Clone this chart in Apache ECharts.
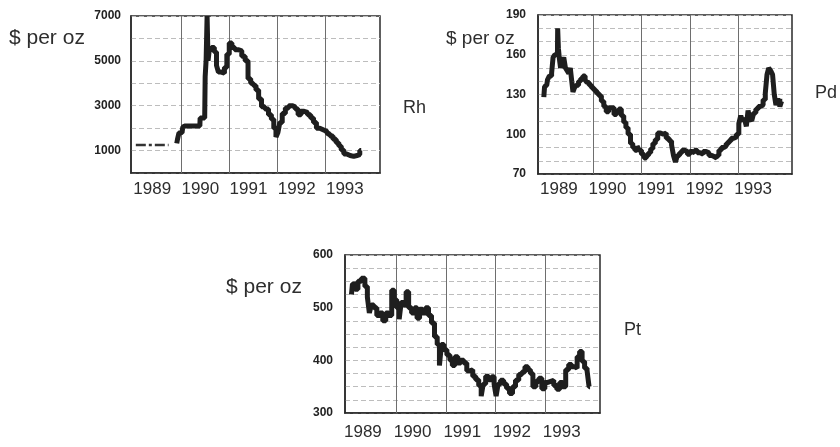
<!DOCTYPE html>
<html>
<head>
<meta charset="utf-8">
<script src="https://cdn.jsdelivr.net/npm/echarts@6/dist/echarts.min.js"></script>
<style>
  html, body { margin: 0; padding: 0; background: #fff; }
  #chart { width: 840px; height: 447px; }
</style>
</head>
<body>
<div id="chart"></div>
<script>
// year labels and the vertical year lines
const yearLabels = [1989, 1990, 1991, 1992, 1993];
const gridYears = [1990, 1991, 1992, 1993];

// Rh ($ per oz)
const rhTicks = [1000, 3000, 5000, 7000];
const rhDashYears = [1989.06, 1989.74];
const rhDashValues = [1250, 1250];
const rhYears = [1989.91, 1989.94, 1989.97, 1990.02, 1990.05, 1990.09, 1990.39, 1990.40, 1990.49, 1990.51,
  1990.53, 1990.55, 1990.57, 1990.60, 1990.66, 1990.72, 1990.75, 1990.80, 1990.87, 1990.93,
  1990.97, 1991.03, 1991.08, 1991.15, 1991.22, 1991.30, 1991.36, 1991.42, 1991.47, 1991.53,
  1991.58, 1991.64, 1991.70, 1991.78, 1991.85, 1991.90, 1991.95, 1991.99, 1992.03, 1992.07,
  1992.13, 1992.20, 1992.27, 1992.34, 1992.40, 1992.46, 1992.52, 1992.59, 1992.66, 1992.72,
  1992.78, 1992.84, 1992.92, 1993.00, 1993.06, 1993.12, 1993.19, 1993.25, 1993.30, 1993.35,
  1993.41, 1993.47, 1993.55, 1993.62, 1993.68, 1993.74];
const rhValues = [1320, 1500, 1780, 1800, 2050, 2100, 2100, 2450, 2450, 4300,
  5050, 7000, 5000, 5500, 5600, 5400, 4800, 4500, 4450, 4700,
  5300, 5800, 5600, 5500, 5450, 5200, 5000, 4200, 4000, 3900,
  3700, 3300, 2950, 2850, 2600, 2400, 2000, 1600, 1800, 2250,
  2650, 2900, 3000, 2950, 2850, 2600, 2750, 2700, 2600, 2450,
  2250, 2000, 1920, 1850, 1750, 1650, 1500, 1350, 1200, 1020,
  850, 780, 740, 780, 820, 1000];

// Pd ($ per oz)
const pdTicks = [70, 100, 130, 160, 190];
const pdYears = [1988.99, 1989.02, 1989.05, 1989.08, 1989.13, 1989.17, 1989.19, 1989.24, 1989.27, 1989.28,
  1989.30, 1989.32, 1989.35, 1989.38, 1989.42, 1989.45, 1989.49, 1989.52, 1989.55, 1989.58,
  1989.60, 1989.64, 1989.68, 1989.73, 1989.77, 1989.82, 1989.86, 1989.90, 1989.95, 1990.00,
  1990.05, 1990.10, 1990.15, 1990.20, 1990.25, 1990.30, 1990.35, 1990.41, 1990.46, 1990.51,
  1990.56, 1990.61, 1990.66, 1990.70, 1990.75, 1990.80, 1990.84, 1990.89, 1990.93, 1990.97,
  1991.03, 1991.08, 1991.12, 1991.17, 1991.21, 1991.26, 1991.31, 1991.36, 1991.42, 1991.48,
  1991.54, 1991.60, 1991.64, 1991.68, 1991.72, 1991.76, 1991.81, 1991.86, 1991.92, 1991.97,
  1992.02, 1992.07, 1992.12, 1992.18, 1992.24, 1992.30, 1992.36, 1992.42, 1992.48, 1992.53,
  1992.57, 1992.62, 1992.67, 1992.72, 1992.77, 1992.82, 1992.87, 1992.93, 1992.98, 1993.03,
  1993.06, 1993.10, 1993.14, 1993.18, 1993.21, 1993.25, 1993.29, 1993.33, 1993.38, 1993.43,
  1993.48, 1993.53, 1993.57, 1993.60, 1993.64, 1993.68, 1993.72, 1993.75, 1993.79, 1993.83,
  1993.87, 1993.90];
const pdValues = [128, 136, 137, 141, 144, 146, 158, 160, 160, 180,
  165, 157, 150, 155, 158, 150, 148, 146, 150, 140,
  132, 135, 137, 140, 142, 144, 141, 139, 137, 135,
  133, 131, 129, 125, 121, 117, 120, 120, 115, 117,
  119, 114, 109, 105, 100, 93, 90, 88, 91, 88,
  85, 82, 84, 86, 89, 93, 96, 101, 100, 101,
  97, 95, 92, 84, 79, 84, 86, 88, 87, 85,
  87, 86, 88, 86, 85, 87, 86, 84, 83, 82,
  84, 88, 90, 91, 93, 95, 97, 98, 100, 108,
  114, 110, 112, 106, 118, 112, 110, 116, 119, 121,
  122, 126, 131, 145, 150, 148, 145, 130, 122, 127,
  121, 125];

// Pt ($ per oz)
const ptTicks = [300, 400, 500, 600];
const ptYears = [1989.10, 1989.14, 1989.20, 1989.26, 1989.34, 1989.40, 1989.44, 1989.48, 1989.52, 1989.58,
  1989.64, 1989.70, 1989.76, 1989.82, 1989.88, 1989.94, 1989.98, 1990.04, 1990.08, 1990.12,
  1990.18, 1990.22, 1990.28, 1990.34, 1990.40, 1990.44, 1990.50, 1990.56, 1990.62, 1990.68,
  1990.74, 1990.80, 1990.85, 1990.89, 1990.93, 1990.99, 1991.05, 1991.11, 1991.15, 1991.21,
  1991.27, 1991.33, 1991.39, 1991.45, 1991.51, 1991.57, 1991.63, 1991.69, 1991.73, 1991.77,
  1991.83, 1991.89, 1991.95, 1991.99, 1992.03, 1992.07, 1992.13, 1992.19, 1992.25, 1992.31,
  1992.37, 1992.43, 1992.50, 1992.56, 1992.62, 1992.68, 1992.72, 1992.78, 1992.84, 1992.90,
  1992.96, 1993.02, 1993.08, 1993.14, 1993.20, 1993.26, 1993.32, 1993.38, 1993.44, 1993.50,
  1993.56, 1993.62, 1993.66, 1993.72, 1993.76, 1993.82, 1993.86, 1993.90];
const ptValues = [525, 545, 535, 550, 556, 540, 520, 490, 505, 500,
  485, 490, 475, 490, 485, 533, 515, 500, 478, 510,
  505, 530, 500, 490, 500, 480, 497, 490, 500, 485,
  471, 445, 430, 390, 430, 420, 410, 400, 390, 407,
  395, 400, 395, 380, 382, 370, 363, 352, 332, 355,
  370, 363, 369, 355, 332, 355, 362, 355, 347, 337,
  350, 362, 373, 378, 388, 382, 375, 350, 360, 366,
  346, 358, 360, 362, 352, 345, 358, 350, 382, 392,
  388, 385, 407, 417, 398, 385, 380, 350];

const chart = echarts.init(document.getElementById('chart'));
const sans = '"Liberation Sans", Arial, sans-serif';

const panels = [
  { left: 131, top: 16, width: 249, height: 157, xMin: 1988.96, xMax: 1994.13, labelShift: 0.4, xMargin: 8,
    yMin: 0, yMax: 7000, yStep: 1000, yTicks: rhTicks, yMargin: 10, years: rhYears, values: rhValues },
  { left: 538, top: 15, width: 254, height: 159, xMin: 1988.87, xMax: 1994.10, labelShift: 0.3, xMargin: 7,
    yMin: 70, yMax: 190, yStep: 10, yTicks: pdTicks, yMargin: 12, years: pdYears, values: pdValues },
  { left: 345, top: 255, width: 255, height: 158, xMin: 1988.97, xMax: 1994.10, labelShift: 0.33, xMargin: 11,
    yMin: 300, yMax: 600, yStep: 25, yTicks: ptTicks, yMargin: 12, years: ptYears, values: ptValues }
];

const grid = [], xAxis = [], yAxis = [], series = [];
panels.forEach((p, i) => {
  grid.push({ left: p.left, top: p.top, width: p.width, height: p.height,
    show: true, borderColor: '#2a2a2a', borderWidth: 1.5 });
  // main axis: data lives here
  xAxis.push({ gridIndex: i, type: 'value', min: p.xMin, max: p.xMax,
    axisLine: { show: true, lineStyle: { color: '#2a2a2a', width: 1.5 } },
    axisTick: { show: false }, axisLabel: { show: false }, splitLine: { show: false } });
  // label axis: shifted so the year sits inside its band
  xAxis.push({ gridIndex: i, type: 'value', min: p.xMin - p.labelShift, max: p.xMax - p.labelShift,
    minInterval: 1, maxInterval: 1, position: 'bottom',
    axisLine: { show: false }, axisTick: { show: false }, splitLine: { show: false },
    axisLabel: { margin: p.xMargin, fontFamily: sans, fontSize: 17, color: '#2e2e2e',
      formatter: v => yearLabels.includes(v) ? String(v) : '' } });
  yAxis.push({ gridIndex: i, type: 'value', min: p.yMin, max: p.yMax, interval: p.yStep,
    axisLine: { show: true, lineStyle: { color: '#2a2a2a', width: 1.5 } },
    axisTick: { show: false },
    axisLabel: { margin: p.yMargin, fontFamily: sans, fontWeight: 'bold', fontSize: 12, color: '#222',
      formatter: v => p.yTicks.includes(v) ? String(v) : '' },
    splitLine: { show: true, lineStyle: { color: '#bdbdbd', type: [5, 3], width: 1 } } });
  series.push({
    type: 'line', xAxisIndex: 2 * i, yAxisIndex: i,
    data: p.years.map((y, k) => [y, p.values[k]]),
    showSymbol: false, step: 'middle', silent: true, z: 3,
    lineStyle: { color: '#1e1e1e', width: 5 },
    markLine: { silent: true, z: 1, symbol: ['none', 'none'], label: { show: false },
      lineStyle: { color: '#6e6e6e', type: 'solid', width: 1 },
      data: gridYears.map(y => ({ xAxis: y })) }
  });
});

// early Rh quote, dash-dot
series.push({
  type: 'line', xAxisIndex: 0, yAxisIndex: 0,
  data: rhDashYears.map((y, k) => [y, rhDashValues[k]]),
  showSymbol: false, silent: true, z: 3,
  lineStyle: { color: '#333', width: 2.5, type: [10, 3, 3, 3] }
});

const label = (x, y, text, size) => ({
  type: 'text', x: x, y: y,
  style: { text: text, fill: '#2e2e2e', font: size + 'px ' + sans, align: 'left', verticalAlign: 'middle' }
});

chart.setOption({
  animation: false,
  backgroundColor: '#fff',
  grid: grid,
  xAxis: xAxis,
  yAxis: yAxis,
  series: series,
  graphic: [
    label(9, 38, '$ per oz', 21),
    label(446, 39, '$ per oz', 19),
    label(226, 287, '$ per oz', 21),
    label(403, 108, 'Rh', 18),
    label(815, 93, 'Pd', 18),
    label(624, 330, 'Pt', 18)
  ]
});
</script>
</body>
</html>
